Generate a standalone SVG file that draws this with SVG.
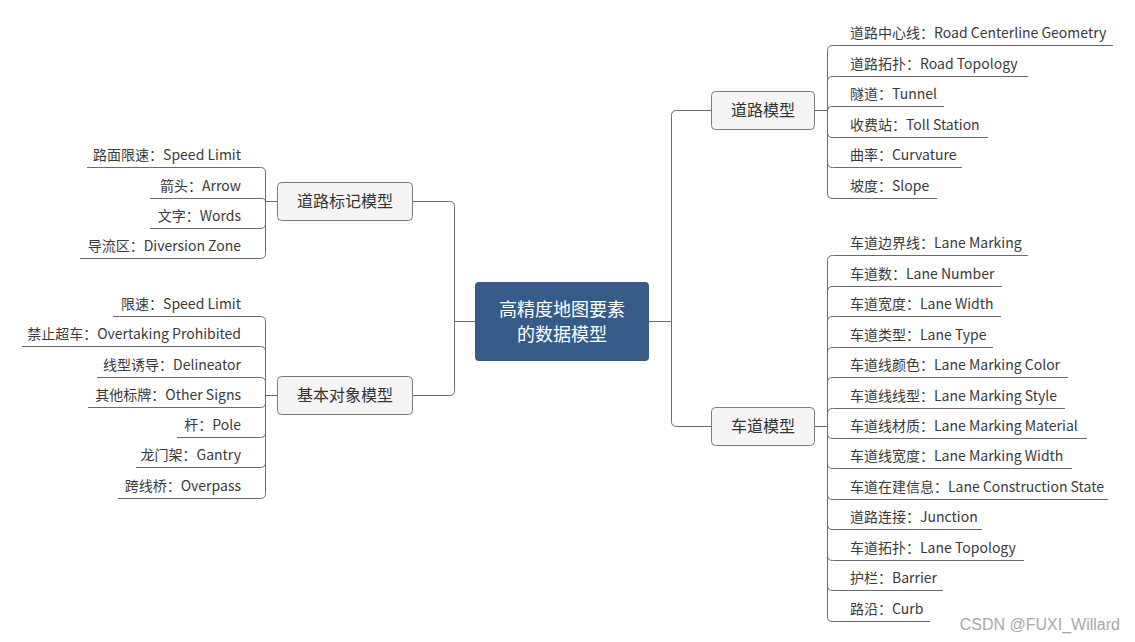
<svg xmlns="http://www.w3.org/2000/svg" width="1135" height="642" viewBox="0 0 1135 642">
<style>
.ln{fill:none;stroke:#6b6b6b;stroke-width:1}
.bx{fill:#f5f5f5;stroke:#7a7a7a;stroke-width:1}
.t{font-family:"Noto Sans CJK SC","Noto Sans",sans-serif;fill:#3a3a3a;font-size:14px}
.tl{text-anchor:end}
.bt{font-family:"Noto Sans CJK SC",sans-serif;fill:#333;font-size:16px;text-anchor:middle}
.ct{font-family:"Noto Sans CJK SC",sans-serif;fill:#fff;font-size:18px;text-anchor:middle}
</style>
<rect width="1135" height="642" fill="#fff"/>
<g id="connectors">
<path class="ln" d="M649 321.5 H671.5 V115.5 Q671.5 110.5 676.5 110.5 H712"/>
<path class="ln" d="M649 321.5 H671.5 V421.5 Q671.5 426.5 676.5 426.5 H712"/>
<path class="ln" d="M475 321.5 H454.5 V206.5 Q454.5 201.5 449.5 201.5 H413"/>
<path class="ln" d="M475 321.5 H454.5 V390.5 Q454.5 395.5 449.5 395.5 H413"/>
<path class="ln" d="M815 110.5 H827.5 V50.5 Q827.5 45.5 832.5 45.5 H1113"/>
<path class="ln" d="M815 110.5 H827.5 V81.5 Q827.5 76.5 832.5 76.5 H1028"/>
<path class="ln" d="M815 110.5 H827.5 V110.5 Q827.5 106.5 831.5 106.5 H944"/>
<path class="ln" d="M815 110.5 H827.5 V132.5 Q827.5 137.5 832.5 137.5 H988"/>
<path class="ln" d="M815 110.5 H827.5 V162.5 Q827.5 167.5 832.5 167.5 H962"/>
<path class="ln" d="M815 110.5 H827.5 V193.5 Q827.5 198.5 832.5 198.5 H937"/>
<path class="ln" d="M815 426.5 H827.5 V260.5 Q827.5 255.5 832.5 255.5 H1028"/>
<path class="ln" d="M815 426.5 H827.5 V291.5 Q827.5 286.5 832.5 286.5 H1002"/>
<path class="ln" d="M815 426.5 H827.5 V321.5 Q827.5 316.5 832.5 316.5 H1001"/>
<path class="ln" d="M815 426.5 H827.5 V352.5 Q827.5 347.5 832.5 347.5 H993"/>
<path class="ln" d="M815 426.5 H827.5 V382.5 Q827.5 377.5 832.5 377.5 H1068"/>
<path class="ln" d="M815 426.5 H827.5 V413.5 Q827.5 408.5 832.5 408.5 H1065"/>
<path class="ln" d="M815 426.5 H827.5 V433.5 Q827.5 438.5 832.5 438.5 H1087"/>
<path class="ln" d="M815 426.5 H827.5 V463.5 Q827.5 468.5 832.5 468.5 H1072"/>
<path class="ln" d="M815 426.5 H827.5 V494.5 Q827.5 499.5 832.5 499.5 H1108"/>
<path class="ln" d="M815 426.5 H827.5 V524.5 Q827.5 529.5 832.5 529.5 H982"/>
<path class="ln" d="M815 426.5 H827.5 V555.5 Q827.5 560.5 832.5 560.5 H1024"/>
<path class="ln" d="M815 426.5 H827.5 V585.5 Q827.5 590.5 832.5 590.5 H943"/>
<path class="ln" d="M815 426.5 H827.5 V616.5 Q827.5 621.5 832.5 621.5 H930"/>
<path class="ln" d="M277 201.5 H265.5 V172.5 Q265.5 167.5 260.5 167.5 H87"/>
<path class="ln" d="M277 201.5 H265.5 V201.5 Q265.5 198.5 262.5 198.5 H150"/>
<path class="ln" d="M277 201.5 H265.5 V223.5 Q265.5 228.5 260.5 228.5 H150"/>
<path class="ln" d="M277 201.5 H265.5 V253.5 Q265.5 258.5 260.5 258.5 H80"/>
<path class="ln" d="M277 395.5 H265.5 V321.5 Q265.5 316.5 260.5 316.5 H113"/>
<path class="ln" d="M277 395.5 H265.5 V351.5 Q265.5 346.5 260.5 346.5 H22"/>
<path class="ln" d="M277 395.5 H265.5 V382.5 Q265.5 377.5 260.5 377.5 H97"/>
<path class="ln" d="M277 395.5 H265.5 V402.5 Q265.5 407.5 260.5 407.5 H88"/>
<path class="ln" d="M277 395.5 H265.5 V432.5 Q265.5 437.5 260.5 437.5 H177"/>
<path class="ln" d="M277 395.5 H265.5 V462.5 Q265.5 467.5 260.5 467.5 H136"/>
<path class="ln" d="M277 395.5 H265.5 V493.5 Q265.5 498.5 260.5 498.5 H118"/>
</g>
<g id="root">
<rect x="475" y="282" width="174" height="79" rx="4" fill="#365b88"/>
<text class="ct" x="562" y="316">高精度地图要素</text>
<text class="ct" x="562" y="341">的数据模型</text>
</g>
<g id="road-model">
<rect class="bx" x="711.5" y="91.5" width="103" height="38" rx="4"/>
<text class="bt" x="763" y="116">道路模型</text>
</g>
<g id="lane-model">
<rect class="bx" x="711.5" y="407.5" width="103" height="38" rx="4"/>
<text class="bt" x="763" y="432">车道模型</text>
</g>
<g id="marking-model">
<rect class="bx" x="277.5" y="182.5" width="135" height="38" rx="4"/>
<text class="bt" x="345" y="207">道路标记模型</text>
</g>
<g id="object-model">
<rect class="bx" x="277.5" y="376.5" width="135" height="38" rx="4"/>
<text class="bt" x="345" y="401">基本对象模型</text>
</g>
<g id="road-leaves">
<text class="t" x="850" y="38">道路中心线：Road Centerline Geometry</text>
<text class="t" x="850" y="69">道路拓扑：Road Topology</text>
<text class="t" x="850" y="99">隧道：Tunnel</text>
<text class="t" x="850" y="130">收费站：Toll Station</text>
<text class="t" x="850" y="160">曲率：Curvature</text>
<text class="t" x="850" y="191">坡度：Slope</text>
</g>
<g id="lane-leaves">
<text class="t" x="850" y="248">车道边界线：Lane Marking</text>
<text class="t" x="850" y="279">车道数：Lane Number</text>
<text class="t" x="850" y="309">车道宽度：Lane Width</text>
<text class="t" x="850" y="340">车道类型：Lane Type</text>
<text class="t" x="850" y="370">车道线颜色：Lane Marking Color</text>
<text class="t" x="850" y="401">车道线线型：Lane Marking Style</text>
<text class="t" x="850" y="431">车道线材质：Lane Marking Material</text>
<text class="t" x="850" y="461">车道线宽度：Lane Marking Width</text>
<text class="t" x="850" y="492">车道在建信息：Lane Construction State</text>
<text class="t" x="850" y="522">道路连接：Junction</text>
<text class="t" x="850" y="553">车道拓扑：Lane Topology</text>
<text class="t" x="850" y="583">护栏：Barrier</text>
<text class="t" x="850" y="614">路沿：Curb</text>
</g>
<g id="marking-leaves">
<text class="t tl" x="241" y="160">路面限速：Speed Limit</text>
<text class="t tl" x="241" y="191">箭头：Arrow</text>
<text class="t tl" x="241" y="221">文字：Words</text>
<text class="t tl" x="241" y="251">导流区：Diversion Zone</text>
</g>
<g id="object-leaves">
<text class="t tl" x="241" y="309">限速：Speed Limit</text>
<text class="t tl" x="241" y="339">禁止超车：Overtaking Prohibited</text>
<text class="t tl" x="241" y="370">线型诱导：Delineator</text>
<text class="t tl" x="241" y="400">其他标牌：Other Signs</text>
<text class="t tl" x="241" y="430">杆：Pole</text>
<text class="t tl" x="241" y="460">龙门架：Gantry</text>
<text class="t tl" x="241" y="491">跨线桥：Overpass</text>
</g>
<text x="1120" y="630" text-anchor="end" font-family="Liberation Sans,Arial,sans-serif" font-size="16" fill="#a8a8a8">CSDN @FUXI_Willard</text>
</svg>
